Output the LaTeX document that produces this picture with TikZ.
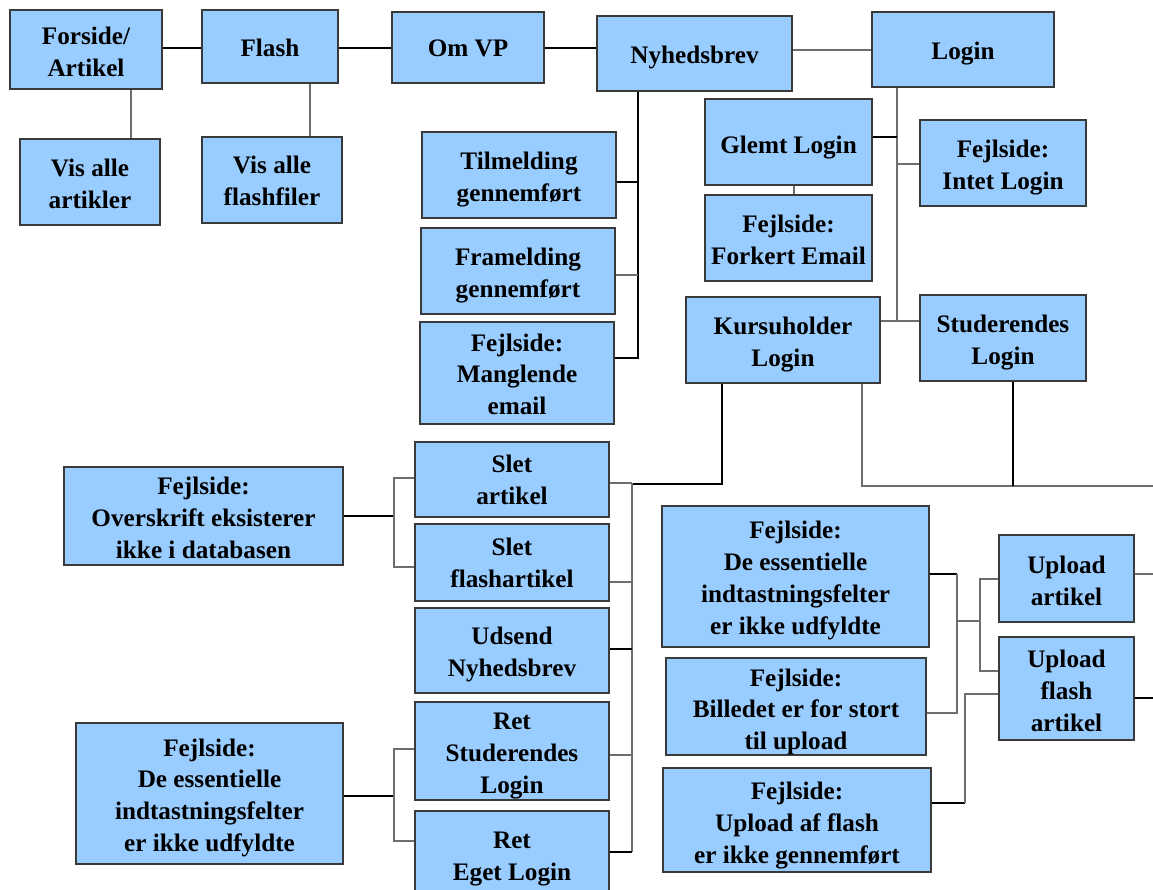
\documentclass[tikz,border=0pt]{standalone}
\usepackage{fontspec}
\setmainfont{Liberation Serif}
\definecolor{boxfill}{HTML}{99CCFF}
\definecolor{boxline}{HTML}{3A3A3A}
\definecolor{wiregray}{HTML}{6E6E6E}

% \pagebox[text drop]{name}{left}{top}{right}{bottom}{text}: a page box given by its corners
\newcommand\pagebox[7][2pt]{%
  \node[box, minimum width={(#5-#3)*0.5pt}, minimum height={(#6-#4)*0.5pt}]
    (#2) at ({(#3+#5)/2},{(#4+#6)/2})
    {\raisebox{-#1}[\height][\depth]{\begin{tabular}{@{}c@{}}#7\end{tabular}}};}

\begin{document}
\begin{tikzpicture}[x=0.5pt,y=-0.5pt,
  box/.style={draw=boxline, line width=0.6pt, fill=boxfill, inner sep=0pt,
    font=\bfseries\fontsize{12.6}{15.9}\selectfont},
  ln/.style={draw=black, line width=0.55pt},
  lg/.style={draw=wiregray, line width=0.6pt}]
\useasboundingbox (0,0) rectangle (1153,890);
\clip (0,0) rectangle (1153,890);

% ---------- top row ----------
\pagebox[2.2pt]{forside}{10}{10}{162}{89}{Forside/\\Artikel}
\pagebox{flash}{202}{10}{338}{83}{Flash}
\pagebox[1.5pt]{omvp}{392}{12}{544}{83}{Om VP}
\pagebox{nyh}{597}{16}{792}{91}{Nyhedsbrev}
\pagebox{login}{872}{12}{1054}{87}{Login}

\pagebox{visart}{20}{139}{160}{225}{Vis alle\\artikler}
\pagebox[1.7pt]{visflash}{202}{137}{342}{223}{Vis alle\\flashfiler}

% ---------- newsletter branch ----------
\pagebox{tilm}{422}{132}{616}{218}{Tilmelding\\gennemført}
\pagebox{fram}{421}{228}{615}{314}{Framelding\\gennemført}
\pagebox[1.8pt]{mangl}{420}{322}{614}{424}{Fejlside:\\Manglende\\email}

% ---------- login branch ----------
\pagebox[2.5pt]{glemt}{705}{99}{872}{185}{Glemt Login}
\pagebox{forkert}{705}{195}{872}{281}{Fejlside:\\Forkert Email}
\pagebox{intet}{920}{120}{1086}{206}{Fejlside:\\Intet Login}
\pagebox{kurs}{686}{297}{880}{383}{Kursuholder\\Login}
\pagebox[2.2pt]{stud}{920}{295}{1086}{381}{Studerendes\\Login}

% ---------- course holder pages ----------
\pagebox[1.3pt]{slet}{415}{442}{609}{517}{Slet\\artikel}
\pagebox[1.5pt]{sletf}{415}{524}{609}{601}{Slet\\flashartikel}
\pagebox{uds}{415}{608}{609}{693}{Udsend\\Nyhedsbrev}
\pagebox{retstud}{415}{702}{609}{800}{Ret\\Studerendes\\Login}
\pagebox[1pt]{reteget}{415}{811}{609}{901}{Ret\\Eget Login}

\pagebox{oversk}{64}{467}{343}{565}{Fejlside:\\Overskrift eksisterer\\ikke i databasen}
\pagebox{essA}{76}{723}{343}{864}{Fejlside:\\De essentielle\\indtastningsfelter\\er ikke udfyldte}

% ---------- upload pages ----------
\pagebox[1.8pt]{essB}{662}{506}{929}{647}{Fejlside:\\De essentielle\\indtastningsfelter\\er ikke udfyldte}
\pagebox[2.5pt]{billed}{666}{658}{926}{755}{Fejlside:\\Billedet er for stort\\til upload}
\pagebox[2.5pt]{upaf}{663}{768}{931}{872}{Fejlside:\\Upload af flash\\er ikke gennemført}
\pagebox[2.2pt]{upart}{999}{535}{1134}{622}{Upload\\artikel}
\pagebox[2.2pt]{upflash}{999}{637}{1134}{740}{Upload\\flash\\artikel}

% free ends at the right border
\coordinate (edgeA) at (1153,486);
\coordinate (edgeB) at (1153,574);
\coordinate (edgeC) at (1153,698);

% ---------- connectors: top row ----------
\draw[ln] (forside.east |- 0,48) -- (flash.west |- 0,48);
\draw[ln] (flash.east |- 0,48) -- (omvp.west |- 0,48);
\draw[ln] (omvp.east |- 0,48) -- (nyh.west |- 0,48);
\draw[lg] (nyh.east |- 0,50) -- (login.west |- 0,50);
\draw[lg] (forside.south -| 131,0) -- (visart.north -| 131,0);
\draw[lg] (flash.south -| 310,0) -- (visflash.north -| 310,0);

% newsletter tree
\draw[ln] (nyh.south -| 638,0) -- (638,358) -- (mangl.east |- 0,358);
\draw[ln] (tilm.east |- 0,182) -- (638,182);
\draw[lg] (fram.east |- 0,275) -- (638,275);

% login tree
\draw[lg] (login.south -| 897,0) -- (897,321);
\draw[ln] (glemt.east |- 0,137) -- (897,137);
\draw[lg] (897,164) -- (intet.west |- 0,164);
\draw[lg] (kurs.east |- 0,321) -- (stud.west |- 0,321);
\draw[lg] (glemt.south -| 794,0) -- (forkert.north -| 794,0);

% course holder tree
\draw[ln] (kurs.south -| 722,0) -- (722,484) -- (632,484);
\draw[lg] (632,483) -- (632,852);
\draw[lg] (slet.east |- 0,483) -- (632,483);
\draw[lg] (sletf.east |- 0,582) -- (632,582);
\draw[ln] (uds.east |- 0,649) -- (632,649);
\draw[lg] (retstud.east |- 0,755) -- (632,755);
\draw[ln] (reteget.east |- 0,852) -- (632,852);

% student tree
\draw[lg] (kurs.south -| 862,0) -- (862,486) -- (edgeA);
\draw[ln] (stud.south -| 1013,0) -- (1013,486);

% error page for deleting
\draw[ln] (oversk.east |- 0,516) -- (394,516);
\draw[lg] (slet.west |- 0,478) -- (394,478) -- (394,567) -- (sletf.west |- 0,567);

% error page for editing logins
\draw[ln] (essA.east |- 0,796) -- (394,796);
\draw[lg] (retstud.west |- 0,749) -- (394,749) -- (394,841) -- (reteget.west |- 0,841);

% upload trees
\draw[ln] (essB.east |- 0,574) -- (957,574);
\draw[lg] (957,574) -- (957,713) -- (billed.east |- 0,713);
\draw[lg] (957,621) -- (980,621);
\draw[lg] (upart.west |- 0,579) -- (980,579) -- (980,671) -- (upflash.west |- 0,671);
\draw[ln] (upaf.east |- 0,803) -- (965,803);
\draw[lg] (965,803) -- (965,694) -- (upflash.west |- 0,694);
\draw[lg] (upart.east |- 0,574) -- (edgeB);
\draw[ln] (upflash.east |- 0,698) -- (edgeC);
\end{tikzpicture}
\end{document}
